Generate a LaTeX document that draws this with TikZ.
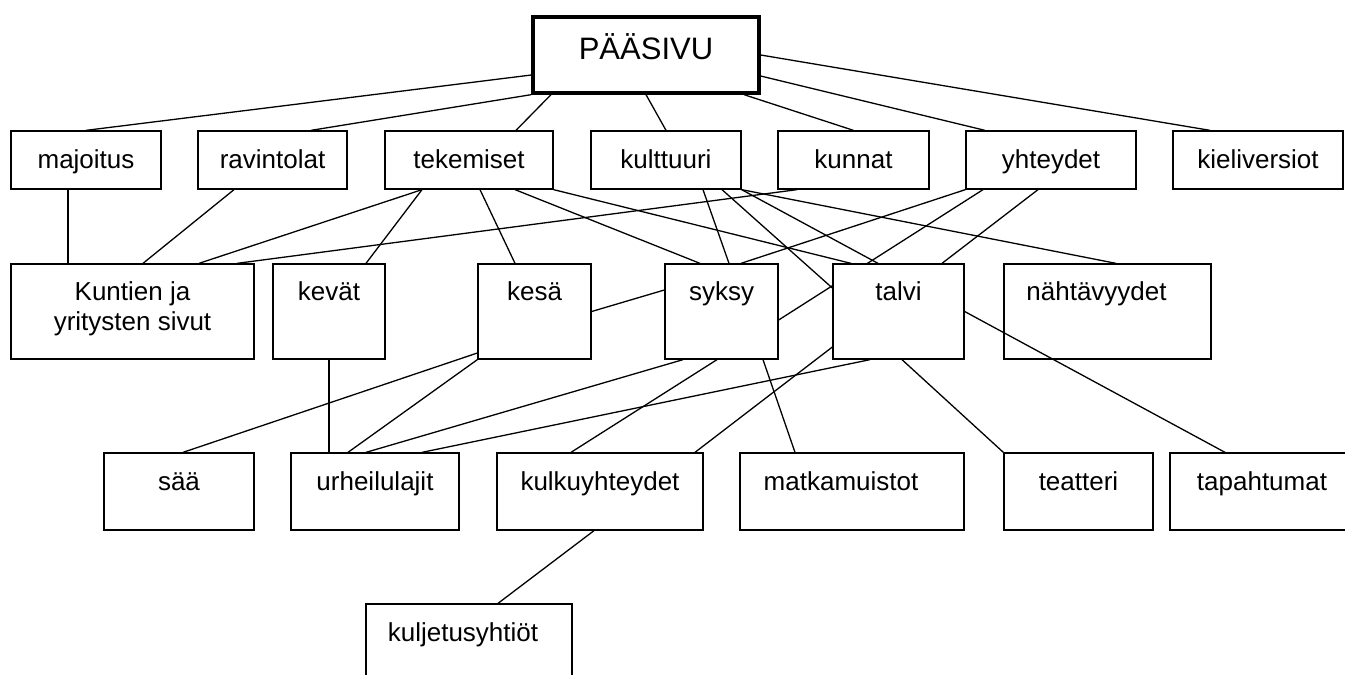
\documentclass[tikz,border=0pt]{standalone}
\usepackage{fontspec}
\setmainfont{Liberation Sans}
\usetikzlibrary{backgrounds}

\begin{document}
\begin{tikzpicture}[x=1pt,y=-1pt,
    box/.style={draw, fill=white, line width=1.3pt, inner sep=0pt,
      font=\fontsize{26}{30}\selectfont, text height=19pt},
    toprow/.style={box, minimum height=58pt, text depth=3pt},
    midrow/.style={box, minimum height=95pt, text depth=42pt},
    lowrow/.style={box, minimum height=77pt, text depth=22pt},
    link/.style={line width=1.3pt}]
  \useasboundingbox (0,0) rectangle (1345,675);
  \clip (0,0) rectangle (1345,675);

  % main page
  \node[box, line width=3.3pt, minimum width=226pt, minimum height=76pt,
    font=\fontsize{31}{36}\selectfont, text height=23pt, text depth=15pt]
    (pa) at (646,55) {PÄÄSIVU};

  % first level
  \node[toprow, minimum width=150pt] (maj) at (86,160) {majoitus};
  \node[toprow, minimum width=149pt] (rav) at (272.5,160) {ravintolat};
  \node[toprow, minimum width=168pt] (tek) at (469,160) {tekemiset};
  \node[toprow, minimum width=150pt] (kult) at (666,160) {kulttuuri};
  \node[toprow, minimum width=151pt] (kun) at (853.5,160) {kunnat};
  \node[toprow, minimum width=170pt] (yht) at (1051,160) {yhteydet};
  \node[toprow, minimum width=170pt] (kiel) at (1258,160) {kieliversiot};

  % second level
  \node[midrow, minimum width=243pt, align=center, text height=49pt, text depth=12pt]
    (kunt) at (132.5,311.5) {Kuntien ja\\yritysten sivut};
  \node[midrow, minimum width=112pt] (kev) at (329,311.5) {kevät};
  \node[midrow, minimum width=113pt] (kes) at (534.5,311.5) {kesä};
  \node[midrow, minimum width=113pt] (syk) at (721.5,311.5) {syksy};
  \node[midrow, minimum width=131pt] (tal) at (898.5,311.5) {talvi};
  \node[midrow, minimum width=207pt] (nah) at (1107.5,311.5) {nähtävyydet\hspace*{22pt}};

  % third level
  \node[lowrow, minimum width=150pt] (saa) at (179,491.5) {sää};
  \node[lowrow, minimum width=168pt] (urh) at (375,491.5) {urheilulajit};
  \node[lowrow, minimum width=206pt] (kulk) at (600,491.5) {kulkuyhteydet};
  \node[lowrow, minimum width=224pt] (matk) at (852,491.5) {matkamuistot\hspace*{22pt}};
  \node[lowrow, minimum width=149pt] (teat) at (1078.5,491.5) {teatteri};
  \node[lowrow, minimum width=184pt] (tap) at (1262,491.5) {tapahtumat};
  \node[lowrow, minimum width=206pt] (kulj) at (469,642.5) {kuljetusyhtiöt\hspace*{12pt}};

  \begin{scope}[on background layer]
    \fill[white] (0,0) rectangle (1345,675);
    \draw[link] ([yshift=-20pt]pa.west) -- (maj.north);
    \draw[link] (pa.south west) -- ([xshift=38.5pt]rav.north);
    \draw[link] ([xshift=-95pt]pa.south) -- ([xshift=47pt]tek.north);
    \draw[link] (pa.south) -- (kult.north);
    \draw[link] ([xshift=98pt]pa.south) -- (kun.north);
    \draw[link] ([yshift=-21pt]pa.east) -- ([xshift=-66pt]yht.north);
    \draw[link] (pa.east) -- ([xshift=-48pt]kiel.north);

    \draw[link] ([xshift=-18pt]maj.south) -- ([xshift=-18pt]maj.south |- kunt.north);
    \draw[link] ([xshift=-38.5pt]rav.south) -- ([xshift=10.5pt]kunt.north);
    \draw[link] ([xshift=-47pt]tek.south) -- ([xshift=66.5pt]kunt.north);
    \draw[link] ([xshift=-47pt]tek.south) -- ([xshift=37pt]kev.north);
    \draw[link] ([xshift=11pt]tek.south) -- ([xshift=-19.5pt]kes.north);
    \draw[link] ([xshift=46pt]tek.south) -- ([xshift=-21.5pt]syk.north);
    \draw[link] (tek.south east) -- ([xshift=-47.5pt]tal.north);
    \draw[link] ([xshift=37pt]kult.south) -- ([xshift=7.5pt]syk.north);
    \draw[link] ([xshift=56pt]kult.south) -- ([yshift=23.5pt]tal.west);
    \draw[link] (kult.south east) -- ([xshift=-20.5pt]tal.north);
    \draw[link] (kult.south east) -- ([xshift=8.5pt]nah.north);
    \draw[link] ([xshift=-56.5pt]kun.south) -- ([xshift=104.5pt]kunt.north);
    \draw[link] (yht.south west) -- ([xshift=19.5pt]syk.north);
    \draw[link] ([xshift=-68pt]yht.south) -- ([yshift=-8.5pt]syk.east);
    \draw[link] ([xshift=-13pt]yht.south) -- ([xshift=43.5pt]tal.north);
    \draw[link] (kes.east) -- ([yshift=21.5pt]syk.west);

    \draw[link] (kev.south) -- (kev.south |- urh.north);
    \draw[link] ([yshift=-41.5pt]kes.west) -- ([xshift=4pt]saa.north);
    \draw[link] (kes.south west) -- ([xshift=-27pt]urh.north);
    \draw[link] ([xshift=-38.5pt]syk.south) -- ([xshift=-9pt]urh.north);
    \draw[link] ([xshift=-4.5pt]syk.south) -- ([xshift=-29pt]kulk.north);
    \draw[link] ([xshift=41.5pt]syk.south) -- ([xshift=-57pt]matk.north);
    \draw[link] ([yshift=-35.5pt]tal.west) -- ([xshift=95pt]kulk.north);
    \draw[link] ([xshift=-28.5pt]tal.south) -- ([xshift=47pt]urh.north);
    \draw[link] ([xshift=3.5pt]tal.south) -- (teat.north west);
    \draw[link] ([xshift=-6pt]kulk.south) -- ([xshift=29pt]kulj.north);
  \end{scope}
  % this one runs over the corner of nahtavyydet
  \draw[link] (tal.east) -- ([xshift=-37pt]tap.north);
\end{tikzpicture}
\end{document}
